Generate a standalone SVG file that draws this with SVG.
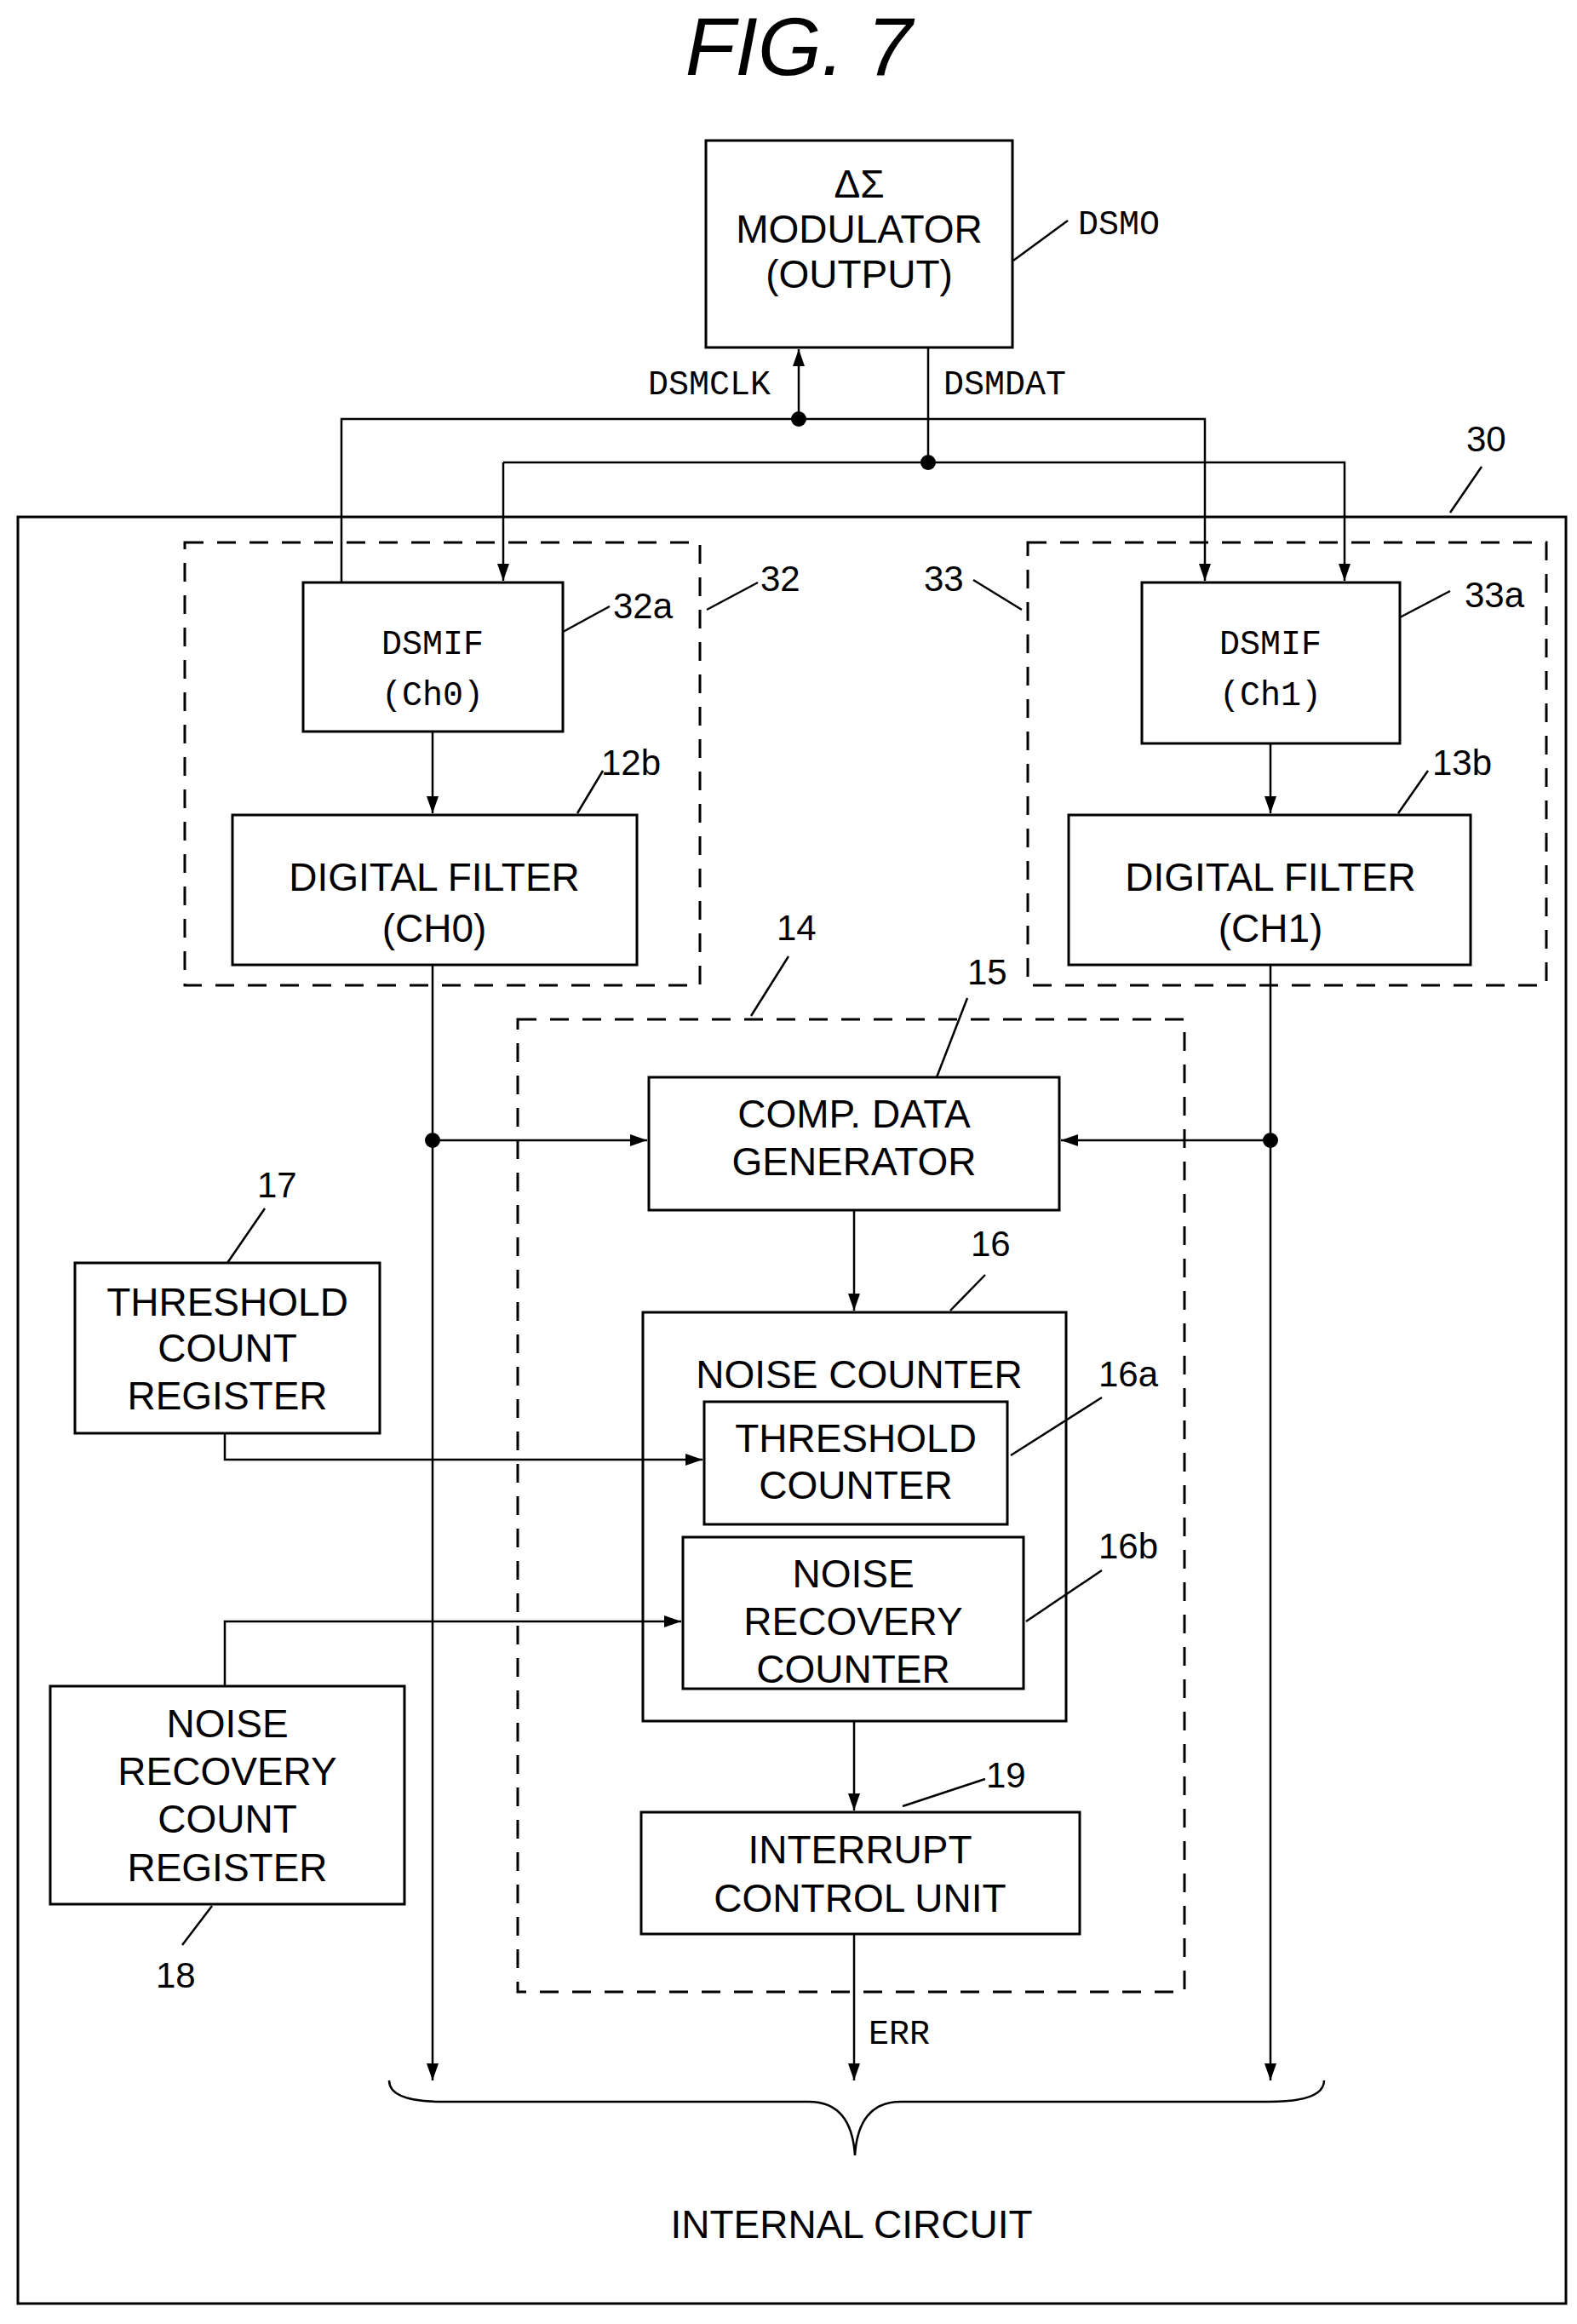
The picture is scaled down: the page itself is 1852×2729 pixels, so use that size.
<svg xmlns="http://www.w3.org/2000/svg" width="1852" height="2729" viewBox="0 0 1852 2729">
<style>
.b{fill:none;stroke:#000;stroke-width:3}
.d{fill:none;stroke:#000;stroke-width:3;stroke-dasharray:22,16}
.l{fill:none;stroke:#000;stroke-width:2.5}
.t{font-family:"Liberation Sans",Arial,sans-serif;font-size:46px;text-anchor:middle;fill:#000}
.m{font-family:"Liberation Mono","DejaVu Sans Mono",monospace;font-size:40px;fill:#000}
.n{font-family:"Liberation Sans",Arial,sans-serif;font-size:42px;fill:#000}
</style>
<defs>
<marker id="a" viewBox="0 0 20 14" refX="20" refY="7" markerWidth="20" markerHeight="14" markerUnits="userSpaceOnUse" orient="auto">
<path d="M0,0 L20,7 L0,14 z" fill="#000"/>
</marker>
</defs>
<text x="938" y="88" style="font-family:'Liberation Sans',Arial,sans-serif;font-size:96px;font-style:italic;text-anchor:middle">FIG. 7</text>

<g id="box30"><rect class="b" x="21" y="607" width="1818" height="2098"/><text class="n" x="1722" y="530">30</text><path class="l" d="M1703,602 L1740,548"/></g>
<g id="box32"><rect class="d" x="217" y="637" width="605" height="520"/><text class="n" x="893" y="694">32</text><path class="l" d="M830,716 L890,684"/></g>
<g id="box33"><rect class="d" x="1207" y="637" width="609" height="520"/><text class="n" x="1085" y="694">33</text><path class="l" d="M1143,681 L1200,716"/></g>
<g id="box14"><rect class="d" x="608" y="1197" width="783" height="1142"/><text class="n" x="912" y="1104">14</text><path class="l" d="M882,1193 L926,1123"/></g>

<g id="dsmo"><rect class="b" x="829" y="165" width="360" height="243"/>
<text class="t" x="1009" y="232">ΔΣ</text><text class="t" x="1009" y="285">MODULATOR</text><text class="t" x="1009" y="338">(OUTPUT)</text>
<text class="m" x="1266" y="275">DSMO</text><path class="l" d="M1190,306 L1254,259"/></g>

<g id="dsmif0"><rect class="b" x="356" y="684" width="305" height="175"/>
<text class="m" x="508" y="768" text-anchor="middle">DSMIF</text><text class="m" x="508" y="828" text-anchor="middle">(Ch0)</text>
<text class="n" x="720" y="726">32a</text><path class="l" d="M661,742 L716,712"/></g>
<g id="dsmif1"><rect class="b" x="1341" y="684" width="303" height="189"/>
<text class="m" x="1492" y="768" text-anchor="middle">DSMIF</text><text class="m" x="1492" y="828" text-anchor="middle">(Ch1)</text>
<text class="n" x="1720" y="713">33a</text><path class="l" d="M1644,725 L1703,694"/></g>

<g id="df0"><rect class="b" x="273" y="957" width="475" height="176"/>
<text class="t" x="510" y="1046">DIGITAL FILTER</text><text class="t" x="510" y="1106">(CH0)</text>
<text class="n" x="706" y="910">12b</text><path class="l" d="M678,955 L708,905"/></g>
<g id="df1"><rect class="b" x="1255" y="957" width="472" height="176"/>
<text class="t" x="1492" y="1046">DIGITAL FILTER</text><text class="t" x="1492" y="1106">(CH1)</text>
<text class="n" x="1682" y="910">13b</text><path class="l" d="M1642,955 L1677,905"/></g>

<g id="comp"><rect class="b" x="762" y="1265" width="482" height="156"/>
<text class="t" x="1003" y="1324">COMP. DATA</text><text class="t" x="1003" y="1380">GENERATOR</text>
<text class="n" x="1136" y="1156">15</text><path class="l" d="M1100,1265 L1136,1172"/></g>

<g id="nc"><rect class="b" x="755" y="1541" width="497" height="480"/>
<text class="t" x="1009" y="1630">NOISE COUNTER</text>
<text class="n" x="1140" y="1475">16</text><path class="l" d="M1116,1539 L1157,1497"/></g>
<g id="tc"><rect class="b" x="827" y="1646" width="356" height="144"/>
<text class="t" x="1005" y="1705">THRESHOLD</text><text class="t" x="1005" y="1760">COUNTER</text>
<text class="n" x="1290" y="1628">16a</text><path class="l" d="M1187,1709 L1294,1641"/></g>
<g id="nrc"><rect class="b" x="802" y="1805" width="400" height="178"/>
<text class="t" x="1002" y="1864">NOISE</text><text class="t" x="1002" y="1920">RECOVERY</text><text class="t" x="1002" y="1976">COUNTER</text>
<text class="n" x="1290" y="1830">16b</text><path class="l" d="M1205,1904 L1294,1844"/></g>

<g id="tcr"><rect class="b" x="88" y="1483" width="358" height="200"/>
<text class="t" x="267" y="1545">THRESHOLD</text><text class="t" x="267" y="1599">COUNT</text><text class="t" x="267" y="1655">REGISTER</text>
<text class="n" x="302" y="1406">17</text><path class="l" d="M267,1483 L311,1419"/></g>
<g id="nrcr"><rect class="b" x="59" y="1980" width="416" height="256"/>
<text class="t" x="267" y="2040">NOISE</text><text class="t" x="267" y="2096">RECOVERY</text><text class="t" x="267" y="2152">COUNT</text><text class="t" x="267" y="2209">REGISTER</text>
<text class="n" x="183" y="2334">18</text><path class="l" d="M249,2238 L214,2284"/></g>

<g id="icu"><rect class="b" x="753" y="2128" width="515" height="143"/>
<text class="t" x="1010" y="2188">INTERRUPT</text><text class="t" x="1010" y="2245">CONTROL UNIT</text>
<text class="n" x="1158" y="2099">19</text><path class="l" d="M1060,2121 L1157,2089"/></g>

<g id="internal"><path class="l" d="M457,2443 Q457,2468 520,2468 L950,2468 Q1000,2468 1004,2531 Q1008,2468 1058,2468 L1490,2468 Q1555,2468 1555,2443"/>
<text class="t" x="1000" y="2628">INTERNAL CIRCUIT</text></g>

<g id="connectors">
<path class="l" d="M938,492 L938,410" marker-end="url(#a)"/>
<path class="l" d="M401,684 L401,492 L1415,492 L1415,682" marker-end="url(#a)"/>
<path class="l" d="M1090,408 L1090,543"/>
<path class="l" d="M591,543 L591,682" marker-end="url(#a)"/>
<path class="l" d="M591,543 L1579,543 L1579,682" marker-end="url(#a)"/>
<path class="l" d="M508,859 L508,955" marker-end="url(#a)"/>
<path class="l" d="M1492,873 L1492,955" marker-end="url(#a)"/>
<path class="l" d="M508,1133 L508,2443" marker-end="url(#a)"/>
<path class="l" d="M1492,1133 L1492,2443" marker-end="url(#a)"/>
<path class="l" d="M508,1339 L760,1339" marker-end="url(#a)"/>
<path class="l" d="M1492,1339 L1246,1339" marker-end="url(#a)"/>
<path class="l" d="M1003,1421 L1003,1539" marker-end="url(#a)"/>
<path class="l" d="M264,1683 L264,1714 L825,1714" marker-end="url(#a)"/>
<path class="l" d="M264,1980 L264,1904 L800,1904" marker-end="url(#a)"/>
<path class="l" d="M1003,2021 L1003,2126" marker-end="url(#a)"/>
<path class="l" d="M1003,2271 L1003,2443" marker-end="url(#a)"/>
<circle cx="938" cy="492" r="9"/><circle cx="1090" cy="543" r="9"/>
<circle cx="508" cy="1339" r="9"/><circle cx="1492" cy="1339" r="9"/>
<text class="m" x="905" y="463" text-anchor="end">DSMCLK</text>
<text class="m" x="1108" y="463">DSMDAT</text>
<text class="m" x="1020" y="2400">ERR</text>
</g>
</svg>
